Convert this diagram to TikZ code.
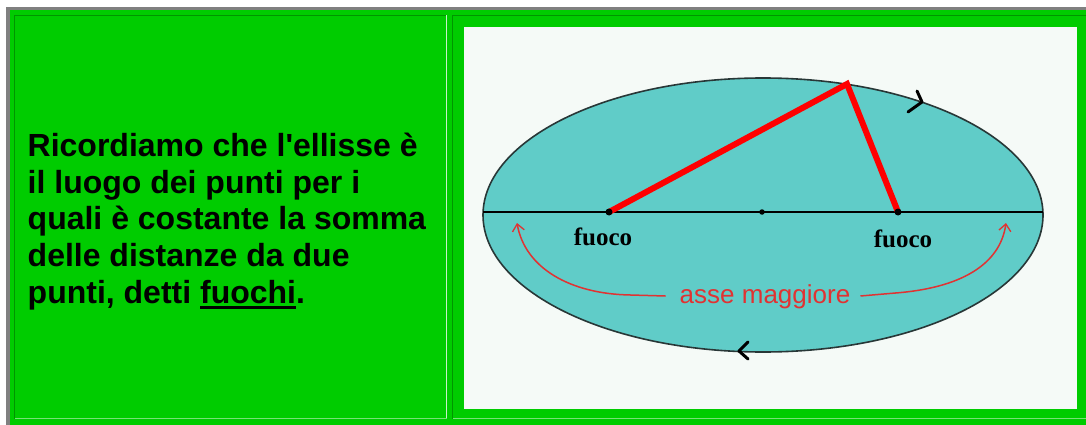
\documentclass[tikz,border=0pt]{standalone}
\usepackage{fontspec}
\setmainfont{Liberation Sans}[Ligatures=TeXOff]
\newfontfamily\labserif{Liberation Serif}
\usetikzlibrary{arrows.meta}
\definecolor{bggreen}{RGB}{0,204,0}
\definecolor{darkline}{RGB}{0,150,0}
\definecolor{lightline}{RGB}{120,225,120}
\definecolor{paleline}{RGB}{200,240,200}
\definecolor{outergray}{RGB}{128,128,128}
\definecolor{imgwhite}{RGB}{245,250,247}
\definecolor{teal}{RGB}{96,204,200}
\definecolor{ellline}{RGB}{40,55,55}
\definecolor{axisred}{RGB}{225,50,50}
\newcommand\myul[1]{\setbox0\hbox{#1}\rlap{\rule[-5.5pt]{\wd0}{2.5pt}}\box0}
\begin{document}
\begin{tikzpicture}[x=1pt,y=-1pt,
  bigtext/.style={anchor=base west,inner sep=0pt,font=\fontsize{32}{37}\selectfont\bfseries},
  foclab/.style={anchor=base,inner sep=0pt,font=\labserif\fontsize{25}{27}\selectfont\bfseries},
  redtri/.style={red,line width=6pt,line cap=round},
  chev/.style={black,line width=3pt,line cap=round,line join=round},
  axisarc/.style={axisred,line width=1.5pt,-{Straight Barb[length=7pt,width=12pt,line width=1.3pt]}},
  dot/.style={circle,fill=black,inner sep=0pt,minimum size=7pt}]
\useasboundingbox (0,0) rectangle (1086,425);
% page and table
\fill[white] (0,0) rectangle (1086,425);
\fill[outergray] (6,7) rectangle (1086,425);
\fill[bggreen] (9.5,10.5) rectangle (1086,425);
% left cell borders
\draw[darkline,line width=1pt] (14.5,418.5) -- (14.5,15.5) -- (446.5,15.5);
\draw[paleline,line width=1pt] (446.5,15.5) -- (446.5,418.5);
\draw[lightline,line width=1pt] (14.5,418.5) -- (446.5,418.5);
% right cell borders
\draw[darkline,line width=1pt] (452.5,418.5) -- (452.5,15.5) -- (1086,15.5);
\draw[lightline,line width=1pt] (452.5,418.5) -- (1086,418.5);
% image
\fill[imgwhite] (464,27) rectangle (1077,409);
% left text
\node[bigtext] (l1) at (27.5,156) {Ricordiamo che l'ellisse è};
\node[bigtext] (l2) at (27.5,193) {il luogo dei punti per i};
\node[bigtext] (l3) at (27.5,229.5) {quali è costante la somma};
\node[bigtext] (l4) at (27.5,266) {delle distanze da due};
\node[bigtext] (l5) at (27.5,303) {punti, detti \myul{fuochi}.};
% ellipse
\filldraw[fill=teal,draw=ellline,line width=1.6pt] (763,215) ellipse [x radius=280, y radius=137];
\coordinate (axL) at (483,212);
\coordinate (axR) at (1043,212);
\draw[black,line width=1.5pt] (axL) -- (axR);
\coordinate (F1) at (609,212);
\coordinate (F2) at (898,212);
\coordinate (P) at (847,84);
\draw[redtri] (F1) -- (P) -- (F2);
\node[dot] (f1) at (F1) {};
\node[dot,minimum size=5.5pt] (c) at (762,212) {};
\node[dot] (f2) at (F2) {};
\node[foclab] (lf1) at (603,245) {fuoco};
\node[foclab] (lf2) at (903,247) {fuoco};
% major axis label and arcs
\node[inner sep=0pt,text=axisred,font=\fontsize{26}{28}\selectfont] (am) at (765,297) {asse maggiore};
\coordinate (tipL) at (517,223);
\coordinate (tipR) at (1006,223);
\draw[axisarc] ([xshift=-14pt,yshift=1pt]am.west) -- ++(-35,-1) .. controls (570,294) and (525,268) .. (tipL);
\draw[axisarc] ([xshift=10pt,yshift=1pt]am.east) -- ++(35,-3) .. controls (960,288) and (1000,265) .. (tipR);
% direction chevrons
\draw[chev] (917,91) -- (922,102) -- (908,112);
\draw[chev] (748,342) -- (739,351) -- (748,359);
\end{tikzpicture}
\end{document}
